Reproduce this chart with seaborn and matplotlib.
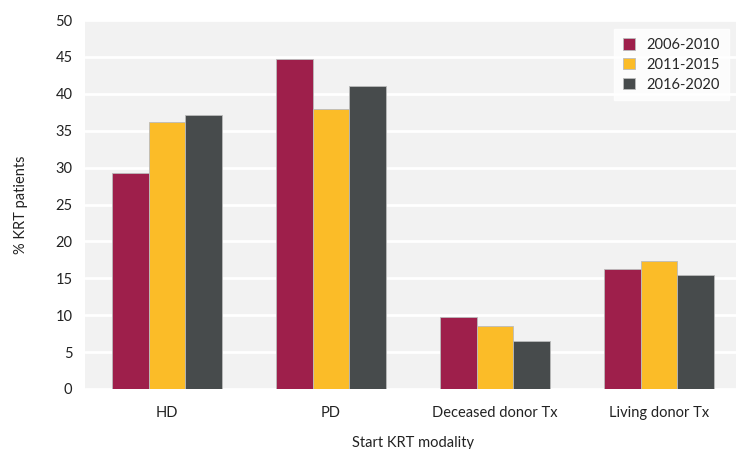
import pandas as pd
import numpy as np
import seaborn as sns
import matplotlib.pyplot as plt

# datos
modalidades = ['HD', 'PD', 'Deceased donor Tx', 'Living donor Tx']
periodos = ['2006-2010', '2011-2015', '2016-2020']
v_2006_2010 = [29.3, 44.7, 9.8, 16.3]
v_2011_2015 = [36.2, 37.9, 8.6, 17.4]
v_2016_2020 = [37.1, 41.0, 6.5, 15.5]
colores = ['#9E1F4B', '#FBBC28', '#474B4C']

df = pd.DataFrame({
    'modalidad': modalidades * 3,
    'periodo': np.repeat(periodos, len(modalidades)),
    'valor': v_2006_2010 + v_2011_2015 + v_2016_2020,
})

sns.set_theme(style='white')
plt.rcParams['font.family'] = ['Lato', 'DejaVu Sans']

fig = plt.figure(figsize=(7.36, 4.49), dpi=100)
ax = fig.add_axes([85 / 736, 1 - 389 / 449, 656 / 736, 369 / 449])
ax.set_facecolor('#F2F2F2')

sns.barplot(data=df, x='modalidad', y='valor', hue='periodo', palette=colores,
            width=0.67, ax=ax, edgecolor='#BBBBBB', linewidth=0.6, saturation=1)

ax.set_ylim(0, 50)
ax.set_yticks(range(0, 51, 5))
ax.yaxis.grid(True, color='white', linewidth=2)
ax.set_axisbelow(True)
for s in ax.spines.values():
    s.set_visible(False)
ax.tick_params(axis='both', length=0, labelsize=10.5, colors='#222222')
ax.tick_params(axis='x', pad=12)
ax.tick_params(axis='y', pad=9)
ax.set_xlabel('Start KRT modality', fontsize=10.5, color='#222222', labelpad=12)
ax.set_ylabel('% KRT patients', fontsize=10.5, color='#222222', labelpad=20)

leg = ax.legend(loc='upper right', bbox_to_anchor=((736 - 85) / 656, 1.0 - 2 / 369),
                frameon=True, fancybox=False, fontsize=10.5, handlelength=0.8,
                handleheight=0.8, borderpad=0.6, labelspacing=0.4)
leg.get_frame().set_facecolor('white')
leg.get_frame().set_edgecolor('white')

fig.savefig('out.png', dpi=100)
